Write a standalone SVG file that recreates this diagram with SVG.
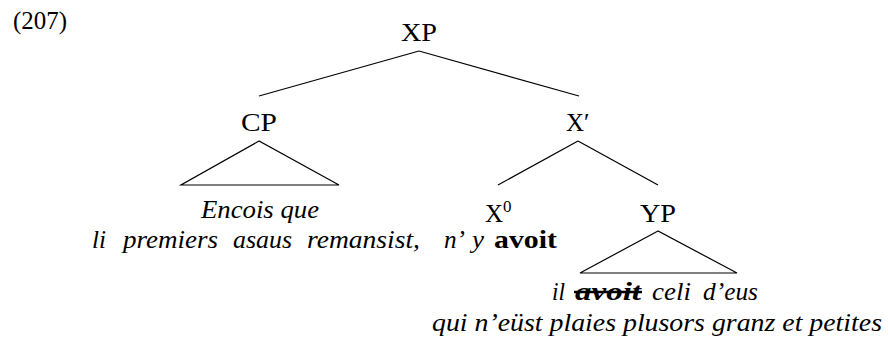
<svg xmlns="http://www.w3.org/2000/svg" width="888" height="349" viewBox="0 0 888 349">
<style>
  text { font-family: "Liberation Serif", "Times New Roman", serif; font-size: 25px; fill: #000; }
  .it { font-style: italic; }
  .bf { font-weight: bold; }
  line, polygon { stroke: #000; stroke-width: 1.2; fill: none; }
</style>
<rect width="888" height="349" fill="#fff"/>
<text id="label" x="13" y="29" font-size="24" textLength="54" lengthAdjust="spacingAndGlyphs">(207)</text>
<g id="connectors">
  <line x1="419" y1="51" x2="259" y2="96"/>
  <line x1="419" y1="51" x2="579" y2="96"/>
  <line x1="578" y1="141" x2="498" y2="185"/>
  <line x1="578" y1="141" x2="658" y2="185"/>
</g>
<g id="XP"><text x="401" y="41" textLength="36" lengthAdjust="spacingAndGlyphs">XP</text></g>
<g id="CP">
  <text x="241" y="131" textLength="36" lengthAdjust="spacingAndGlyphs">CP</text>
  <polygon points="259,141 181,185 339,185"/>
  <text class="it" x="201" y="218" textLength="118" lengthAdjust="spacingAndGlyphs">Encois que</text>
</g>
<g id="Xbar"><text x="566" y="131">X′</text></g>
<g id="X0">
  <text x="485" y="222">X<tspan font-size="17" dy="-10">0</tspan></text>
  <g class="it">
    <text x="92" y="248" textLength="14" lengthAdjust="spacingAndGlyphs">li</text>
    <text x="123" y="248" textLength="95" lengthAdjust="spacingAndGlyphs">premiers</text>
    <text x="233" y="248" textLength="59" lengthAdjust="spacingAndGlyphs">asaus</text>
    <text x="307" y="248" textLength="113" lengthAdjust="spacingAndGlyphs">remansist,</text>
    <text x="444" y="248" textLength="21" lengthAdjust="spacingAndGlyphs">n’</text>
    <text x="472" y="248" textLength="12" lengthAdjust="spacingAndGlyphs">y</text>
  </g>
  <text class="bf" x="494" y="248" textLength="63" lengthAdjust="spacingAndGlyphs">avoit</text>
</g>
<g id="YP">
  <text x="640" y="222" textLength="36" lengthAdjust="spacingAndGlyphs">YP</text>
  <polygon points="658,231 580,273 737,273"/>
  <g class="it">
    <text x="552" y="300" textLength="13" lengthAdjust="spacingAndGlyphs">il</text>
    <text class="bf" x="575" y="300" textLength="66" lengthAdjust="spacingAndGlyphs">avoit</text>
    <text x="652" y="300" textLength="39" lengthAdjust="spacingAndGlyphs">celi</text>
    <text x="703" y="300" textLength="55" lengthAdjust="spacingAndGlyphs">d’eus</text>
  </g>
  <line x1="574" y1="292" x2="642" y2="292" style="stroke-width:2.4"/>
  <text class="it" x="432" y="331" textLength="450" lengthAdjust="spacingAndGlyphs">qui n’eüst plaies plusors granz et petites</text>
</g>
</svg>
